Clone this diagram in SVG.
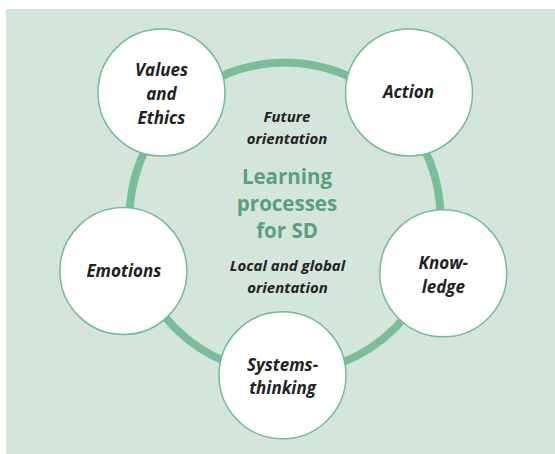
<svg xmlns="http://www.w3.org/2000/svg" width="555" height="454" viewBox="0 0 555 454">
<style>
.node circle{fill:#fff;stroke:#78b996;stroke-width:1.5}
.lbl{font-family:"Open Sans",Lato,"Liberation Sans",sans-serif;font-weight:bold;font-style:italic;font-size:17px;fill:#222;text-anchor:middle}
.sub{font-family:"Open Sans",Lato,"Liberation Sans",sans-serif;font-weight:bold;font-style:italic;font-size:15px;fill:#222;text-anchor:middle}
.title{font-family:"Open Sans",Lato,"Liberation Sans",sans-serif;font-weight:bold;font-size:20.5px;fill:#5c9e80;text-anchor:middle}
</style>
<rect x="6" y="9" width="549" height="445" fill="#d4e5dc"/>
<g id="connectors">
<circle cx="285" cy="218" r="155.5" fill="none" stroke="#7bbd9b" stroke-width="8"/>
</g>
<g id="center">
<text class="sub" x="287" y="122">Future</text>
<text class="sub" x="287" y="144">orientation</text>
<text class="title" x="287" y="184">Learning</text>
<text class="title" x="287" y="211">processes</text>
<text class="title" x="287" y="238">for SD</text>
<text class="sub" x="287.5" y="271">Local and global</text>
<text class="sub" x="287.5" y="293">orientation</text>
</g>
<g id="values" class="node">
<circle cx="161.5" cy="92.5" r="63.5"/>
<text class="lbl" x="161.5" y="76">Values</text>
<text class="lbl" x="161.5" y="100">and</text>
<text class="lbl" x="161.5" y="124">Ethics</text>
</g>
<g id="action" class="node">
<circle cx="409" cy="92.5" r="63.5"/>
<text class="lbl" x="408.5" y="97.5">Action</text>
</g>
<g id="emotions" class="node">
<circle cx="123.4" cy="271" r="63.5"/>
<text class="lbl" x="123.8" y="276.5">Emotions</text>
</g>
<g id="knowledge" class="node">
<circle cx="443.3" cy="273.3" r="63.5"/>
<text class="lbl" x="443.3" y="269">Know-</text>
<text class="lbl" x="443.3" y="292.5">ledge</text>
</g>
<g id="systems" class="node">
<circle cx="282.5" cy="375.3" r="63.5"/>
<text class="lbl" x="282.5" y="370.5">Systems-</text>
<text class="lbl" x="282.5" y="394">thinking</text>
</g>
</svg>
